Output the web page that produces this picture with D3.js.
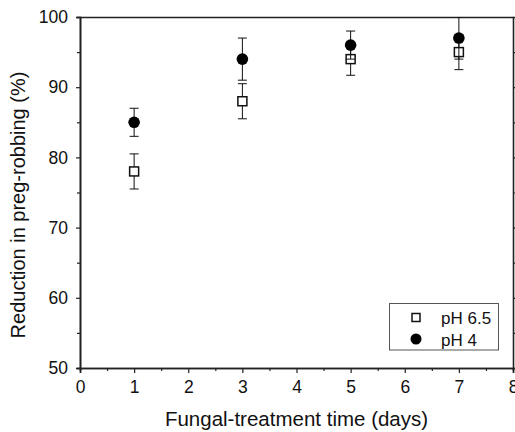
<!DOCTYPE html>
<html><head><meta charset="utf-8">
<script src="https://cdn.jsdelivr.net/npm/d3@7"></script>
<style>
html,body{margin:0;padding:0;background:#fff;}
svg{display:block;font-family:"Liberation Sans",Arial,sans-serif;}
</style></head>
<body>
<svg id="chart" width="515" height="432"></svg>
<script>
const days = [1, 3, 5, 7];
const ph65 = [78, 88, 94, 95];
const ph65Err = [2.5, 2.5, 2.3, 2.5];
const ph4 = [85, 94, 96, 97];
const ph4Err = [2, 3, 2, 3];
const xTicks = [0, 1, 2, 3, 4, 5, 6, 7, 8];
const yTicks = [50, 60, 70, 80, 90, 100];
const seriesNames = ["pH 6.5", "pH 4"];
const xTitle = "Fungal-treatment time (days)";
const yTitle = "Reduction in preg-robbing (%)";

const L = 80, R = 513, T = 17, B = 368;
const svg = d3.select("#chart");
const x = d3.scaleLinear().domain([0, 8]).range([L, R]);
const y = d3.scaleLinear().domain([50, 100]).range([B, T]);

svg.append("defs").append("clipPath").attr("id", "clip")
  .append("rect").attr("x", L).attr("y", T).attr("width", R - L).attr("height", B - T);

const axisColor = "#222";
const gx = svg.append("g").attr("transform", `translate(0,${B})`)
  .call(d3.axisBottom(x).tickValues(xTicks).tickSize(5).tickPadding(8).tickFormat(d3.format("d")));
const gxm = svg.append("g").attr("transform", `translate(0,${B})`)
  .call(d3.axisBottom(x).tickValues(d3.range(0.5, 8, 1)).tickSize(3).tickFormat(""));
const gy = svg.append("g").attr("transform", `translate(${L},0)`)
  .call(d3.axisLeft(y).tickValues(yTicks).tickSize(4).tickPadding(8).tickFormat(d3.format("d")));
const gym = svg.append("g").attr("transform", `translate(${L},0)`)
  .call(d3.axisLeft(y).tickValues(d3.range(55, 100, 10)).tickSize(3).tickFormat(""));
const gr = svg.append("g").attr("transform", `translate(${R},0)`)
  .call(d3.axisRight(y).tickValues(d3.range(50, 101, 5)).tickSize(3).tickFormat(""));
const gt = svg.append("g").attr("transform", `translate(0,${T})`)
  .call(d3.axisTop(x).tickValues([]).tickSize(0).tickFormat(""));

[gx, gxm, gy, gym, gr, gt].forEach(g => {
  g.selectAll(".domain").attr("stroke", axisColor).attr("stroke-width", 1.6);
  g.selectAll(".tick line").attr("stroke", axisColor).attr("stroke-width", 1.2);
  g.selectAll("text").attr("fill", "#111").attr("font-size", 17.5)
    .attr("font-family", "'Liberation Sans',Arial,sans-serif");
});

// titles
svg.append("text").attr("x", (L + R) / 2).attr("y", 426)
  .attr("text-anchor", "middle").attr("font-size", 20.5).attr("fill", "#111").text(xTitle);
svg.append("text").attr("transform", `translate(24.5,205) rotate(-90)`)
  .attr("text-anchor", "middle").attr("font-size", 20).attr("fill", "#111").text(yTitle);

const plot = svg.append("g").attr("clip-path", "url(#clip)");
const capW = 4.5;

function errorBars(vals, errs) {
  const g = plot.append("g").attr("stroke", "#111").attr("stroke-width", 1).attr("fill", "none");
  days.forEach((d, i) => {
    const cx = x(d), y1 = y(vals[i] + errs[i]), y0 = y(vals[i] - errs[i]);
    g.append("line").attr("x1", cx).attr("x2", cx).attr("y1", y1).attr("y2", y0);
    g.append("line").attr("x1", cx - capW).attr("x2", cx + capW).attr("y1", y1).attr("y2", y1);
    g.append("line").attr("x1", cx - capW).attr("x2", cx + capW).attr("y1", y0).attr("y2", y0);
  });
}

// pH 6.5
errorBars(ph65, ph65Err);
plot.append("g").selectAll("rect").data(days).join("rect")
  .attr("x", (d) => x(d) - 4.5).attr("y", (d, i) => y(ph65[i]) - 4.5)
  .attr("width", 9).attr("height", 9)
  .attr("fill", "#fff").attr("stroke", "#111").attr("stroke-width", 1.5);

// pH 4
errorBars(ph4, ph4Err);
plot.append("g").selectAll("circle").data(days).join("circle")
  .attr("cx", (d) => x(d)).attr("cy", (d, i) => y(ph4[i])).attr("r", 5.8)
  .attr("fill", "#000");

// legend
const lg = svg.append("g");
lg.append("rect").attr("x", 389.5).attr("y", 303.5).attr("width", 109).attr("height", 46.5)
  .attr("fill", "#fff").attr("stroke", "#555").attr("stroke-width", 1);
lg.append("rect").attr("x", 416 - 4).attr("y", 317.5 - 4).attr("width", 8).attr("height", 8)
  .attr("fill", "#fff").attr("stroke", "#111").attr("stroke-width", 1.5);
lg.append("circle").attr("cx", 416).attr("cy", 339).attr("r", 5.5).attr("fill", "#000");
lg.selectAll("text").data(seriesNames).join("text")
  .attr("x", 441).attr("y", (d, i) => 323.5 + i * 22)
  .attr("font-size", 17).attr("fill", "#111").text(d => d);
</script>
</body></html>
